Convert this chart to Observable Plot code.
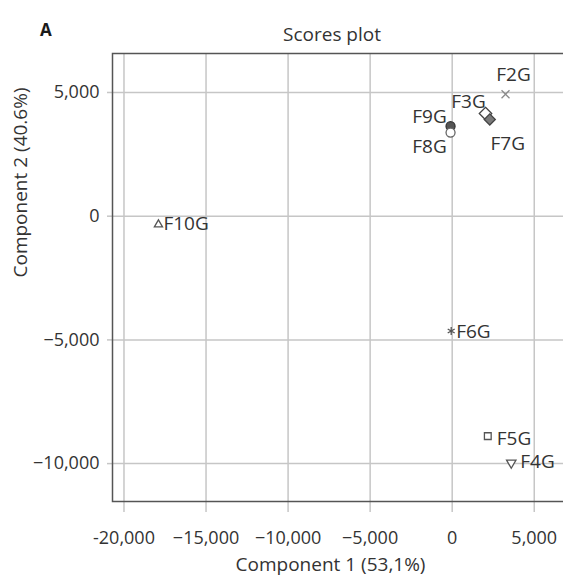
<!DOCTYPE html>
<html>
<head>
<meta charset="utf-8">
<script src="https://cdn.jsdelivr.net/npm/d3@7"></script>
<script src="https://cdn.jsdelivr.net/npm/@observablehq/plot@0.6"></script>
<style>
  html, body { margin: 0; padding: 0; background: #fff; overflow: hidden; }
  #wrap { position: relative; width: 563px; height: 578px; overflow: hidden; }
  #panel { position: absolute; left: 40px; top: 18px; font: bold 17px "Open Sans", sans-serif; color: #1a1a1a; }
  #title { position: absolute; left: 0; width: 664px; top: 21px; text-align: center; font: 19px "Open Sans", sans-serif; color: #333; }
  #chart { position: absolute; left: 0; top: 0; width: 600px; }
  #chart svg { max-width: none !important; width: 600px; height: 578px; }
</style>
</head>
<body>
<div id="wrap">
  <div id="chart"></div>
  <div id="panel">A</div>
  <div id="title">Scores plot</div>
</div>
<script>
// ---- data ----
const xTicks = [-20000, -15000, -10000, -5000, 0, 5000];
const xTickLabels = ["-20,000", "−15,000", "−10,000", "−5,000", "0", "5,000"];
const yTicks = [5000, 0, -5000, -10000];
const yTickLabels = ["5,000", "0", "−5,000", "−10,000"];
const samples = ["F2G", "F3G", "F7G", "F9G", "F8G", "F6G", "F5G", "F4G", "F10G"];
const comp1 = [3250, 2030, 2290, -100, -100, -60, 2170, 3600, -17900];
const comp2 = [4930, 4150, 3910, 3640, 3380, -4640, -8890, -9970, -340];
const xTitle = "Component 1 (53,1%)";
const yTitle = "Component 2 (40.6%)";

// ---- build ----
const rows = samples.map((s, i) => ({sample: s, c1: comp1[i], c2: comp2[i]}));

const triangleDown = {
  draw(ctx, size) {
    d3.symbolTriangle2.draw({
      moveTo: (x, y) => ctx.moveTo(x, -y),
      lineTo: (x, y) => ctx.lineTo(x, -y),
      closePath: () => ctx.closePath()
    }, size);
  }
};

const styles = {
  F2G:  {symbol: "times",    r: 3.7, fill: "none",  stroke: "#8a8a8a", anchor: "middle", dx: 8,   dy: -19},
  F3G:  {symbol: "diamond2", r: 5.6, fill: "#fff",  stroke: "#444",    anchor: "middle", dx: -17, dy: -12},
  F7G:  {symbol: "diamond2", r: 5.0, fill: "#7a7a7a", stroke: "#444",  anchor: "middle", dx: 18,  dy: 24},
  F9G:  {symbol: "circle",   r: 4.5, fill: "#555",  stroke: "#333",    anchor: "middle", dx: -21, dy: -9},
  F8G:  {symbol: "circle",   r: 4.5, fill: "#fff",  stroke: "#666",    anchor: "middle", dx: -21, dy: 14},
  F6G:  {symbol: "asterisk", r: 3.8, fill: "none",  stroke: "#555",    anchor: "start",  dx: 5,   dy: 1},
  F5G:  {symbol: "square2",  r: 4.3, fill: "#fff",  stroke: "#555",    anchor: "start",  dx: 9,   dy: 3},
  F4G:  {symbol: triangleDown, r: 4.5, fill: "#fff", stroke: "#555",   anchor: "start",  dx: 9,   dy: -1},
  F10G: {symbol: "triangle2", r: 3.9, fill: "#fff", stroke: "#555",    anchor: "start",  dx: 5,   dy: -1}
};

const marks = [
  Plot.gridX(xTicks, {stroke: "#c6c6c6", strokeOpacity: 1, strokeWidth: 1.5}),
  Plot.gridY(yTicks, {stroke: "#c6c6c6", strokeOpacity: 1, strokeWidth: 1.5}),
  Plot.axisX(xTicks, {anchor: "bottom", tickSize: 11, tickPadding: 19, stroke: "#c6c6c6", strokeWidth: 1.5, fill: "#333",
    tickFormat: d => xTickLabels[xTicks.indexOf(d)], label: null, fontSize: 18}),
  Plot.axisY(yTicks, {anchor: "left", tickSize: 5, tickPadding: 8, stroke: "#c6c6c6", strokeWidth: 1.5, fill: "#333",
    tickFormat: d => yTickLabels[yTicks.indexOf(d)], label: null, fontSize: 18}),
  Plot.frame({stroke: "#555", strokeWidth: 1.5}),
  Plot.text([xTitle], {text: d => d, frameAnchor: "bottom", dx: -16, dy: 69, fill: "#333", fontSize: 19}),
  Plot.text([yTitle], {text: d => d, frameAnchor: "left", rotate: -90, dx: -92, fill: "#333", fontSize: 19})
];

for (const r of rows) {
  const st = styles[r.sample];
  marks.push(Plot.dot([r], {x: "c1", y: "c2", symbol: st.symbol, r: st.r, fill: st.fill, stroke: st.stroke, strokeWidth: 1.3}));
}
for (const r of rows) {
  const st = styles[r.sample];
  marks.push(Plot.text([r], {x: "c1", y: "c2", text: "sample", textAnchor: st.anchor, dx: st.dx, dy: st.dy, fill: "#333", fontSize: 19}));
}

const chart = Plot.plot({
  width: 600,
  height: 578,
  marginLeft: 112,
  marginRight: 20,
  marginTop: 53,
  marginBottom: 77,
  style: {fontFamily: "'Open Sans', sans-serif", fontSize: "18px", color: "#333", background: "#fff", maxWidth: "none"},
  x: {domain: [-20700, 7819], label: null},
  y: {domain: [-11532, 6576], label: null},
  marks
});
document.getElementById("chart").appendChild(chart);
</script>
</body>
</html>
